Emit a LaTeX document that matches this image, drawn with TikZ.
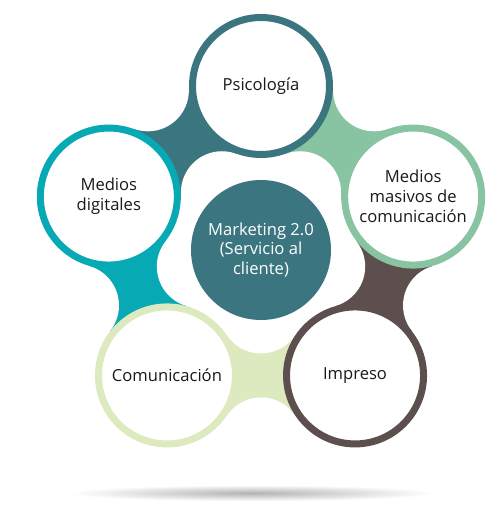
\documentclass[tikz,border=0pt]{standalone}
\usepackage{fontspec}
\setmainfont{Open Sans}
\usetikzlibrary{calc}
\pgfdeclarelayer{bg}
\pgfsetlayers{bg,main}
\definecolor{psico}{HTML}{3B7680}
\definecolor{digit}{HTML}{07A9B5}
\definecolor{masiv}{HTML}{88C4A1}
\definecolor{impr}{HTML}{5C4F4E}
\definecolor{comun}{HTML}{DDE9BF}
\tikzset{
  ring/.style={circle, draw=#1, line width=7pt, fill=white, minimum size=137pt,
    inner sep=0pt, align=center, text=black!90, font=\fontsize{16.6}{19.8}\selectfont},
  hub/.style={circle, fill=psico, minimum size=140pt, inner sep=0pt, align=center,
    text=white, font=\fontsize{16.6}{19.8}\selectfont}
}
\begin{document}
\begin{tikzpicture}[x=1pt, y=1pt]
    \useasboundingbox (0,0) rectangle (503,523);
    \coordinate (o) at (261,277); % middle of the ring
    \shade[inner color=black!30, outer color=white] (252,30) ellipse (182pt and 8pt); % Shadow
    \node[ring=psico] (p) at ($(o)+(90:160)$) {Psicología};
    \node[ring=digit] (d) at ($(o)+(162:160)$) {Medios\\digitales};
    \node[ring=comun] (c) at ($(o)+(234:160)$) {Comunicación};
    \node[ring=impr] (i) at ($(o)+(306:160)$) {Impreso};
    \node[ring=masiv] (m) at ($(o)+(18:160)$) {Medios\\masivos de\\comunicación};
    \node[hub] (hub) at (261,273) {Marketing 2.0\\(Servicio al\\cliente)};
    \begin{pgfonlayer}{bg}
        \foreach \a/\b/\c in {p/d/psico, d/c/digit, c/i/comun, i/m/impr, m/p/masiv} {
            \coordinate (mid) at ($(\a)!0.5!(\b)$);
            \coordinate (fo) at ($(mid)!-63pt!(o)$);
            \coordinate (fi) at ($(mid)!63pt!(o)$);
            \fill[\c] (\a.center) -- (fo) -- (\b.center) -- (fi) -- cycle;
            \fill[white] (fo) circle (41pt) (fi) circle (41pt); % fillets
        }
    \end{pgfonlayer}
\end{tikzpicture}
\end{document}
